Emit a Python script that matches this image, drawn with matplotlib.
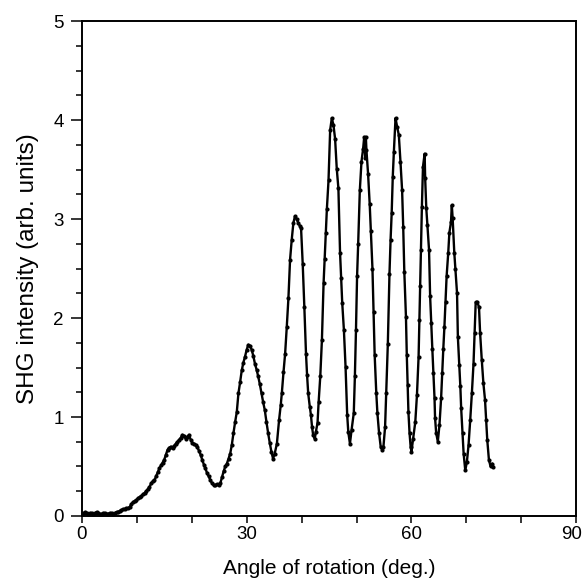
import matplotlib
matplotlib.use("Agg")
import matplotlib.pyplot as plt
import matplotlib.transforms as mtransforms
from matplotlib.ticker import MultipleLocator

# ===============================
# DATA
# ===============================
angle = [
    0.0, 0.3, 0.6, 0.9, 1.2, 1.5, 1.8, 2.1, 2.4, 2.7, 3.0, 3.3, 3.6, 3.9, 4.2, 4.5,
    4.8, 5.1, 5.4, 5.7, 6.0, 6.3, 6.6, 6.9, 7.2, 7.5, 7.8, 8.1, 8.4, 8.7, 9.0, 9.3,
    9.6, 9.9, 10.2, 10.5, 10.8, 11.1, 11.4, 11.7, 12.0, 12.3, 12.6, 12.9, 13.2, 13.5,
    13.8, 14.1, 14.4, 14.7, 15.0, 15.3, 15.6, 15.9, 16.2, 16.5, 16.8, 17.1, 17.4, 17.7,
    18.0, 18.3, 18.6, 18.9, 19.2, 19.5, 19.8, 20.1, 20.4, 20.7, 21.0, 21.3, 21.6, 21.9,
    22.2, 22.5, 22.8, 23.1, 23.4, 23.7, 24.0, 24.3, 24.6, 24.9, 25.2, 25.5, 25.8, 26.1,
    26.4, 26.7, 27.0, 27.3, 27.6, 27.9, 28.2, 28.5, 28.8, 29.1, 29.4, 29.7, 30.0, 30.3,
    30.6, 30.9, 31.2, 31.5, 31.8, 32.1, 32.4, 32.7, 33.0, 33.3, 33.6, 33.9, 34.2, 34.5,
    34.8, 35.1, 35.5, 35.9, 36.2, 36.4, 36.7, 37.0, 37.3, 37.6, 37.9, 38.2, 38.5, 38.8,
    39.1, 39.4, 39.7, 39.9, 40.2, 40.5, 40.8, 41.0, 41.2, 41.5, 41.7, 41.9, 42.1, 42.4,
    42.6, 42.9, 43.1, 43.4, 43.7, 44.0, 44.2, 44.4, 44.6, 44.9, 45.2, 45.5, 45.8, 46.1,
    46.4, 46.7, 47.0, 47.2, 47.4, 47.7, 48.0, 48.3, 48.5, 48.8, 49.1, 49.5, 49.7, 49.9,
    50.1, 50.3, 50.6, 50.9, 51.2, 51.4, 51.6, 51.7, 51.8, 52.1, 52.4, 52.6, 52.9, 53.1,
    53.3, 53.6, 53.8, 54.1, 54.4, 54.7, 54.9, 55.2, 55.4, 55.7, 56.0, 56.2, 56.4, 56.6,
    56.8, 57.1, 57.4, 57.7, 58.0, 58.3, 58.5, 58.7, 59.0, 59.15, 59.3, 59.45, 59.65, 59.85,
    60.0, 60.3, 60.7, 61.0, 61.3, 61.45, 61.6, 61.75, 61.9, 62.1, 62.4, 62.5, 62.7, 62.9,
    63.2, 63.4, 63.6, 63.8, 64.0, 64.2, 64.3, 64.5, 64.8, 65.1, 65.4, 65.6, 65.8, 66.0,
    66.2, 66.4, 66.7, 66.9, 67.2, 67.35, 67.5, 67.8, 68.0, 68.3, 68.45, 68.7, 68.9, 69.05,
    69.3, 69.5, 69.8, 70.1, 70.4, 70.7, 71.0, 71.3, 71.5, 71.7, 72.0, 72.3, 72.5, 72.8,
    73.1, 73.4, 73.6, 73.8, 74.1, 74.4, 74.7, 74.9,
]

shg = [
    0.02, 0.03, 0.04, 0.03, 0.02, 0.03, 0.03, 0.02, 0.03, 0.04, 0.03, 0.02, 0.02, 0.03, 0.03, 0.02,
    0.02, 0.03, 0.03, 0.02, 0.03, 0.04, 0.04, 0.05, 0.06, 0.07, 0.07, 0.08, 0.08, 0.09, 0.12, 0.14,
    0.15, 0.16, 0.18, 0.19, 0.20, 0.22, 0.23, 0.25, 0.27, 0.29, 0.33, 0.35, 0.36, 0.40,
    0.44, 0.48, 0.51, 0.54, 0.57, 0.62, 0.67, 0.69, 0.70, 0.69, 0.71, 0.73, 0.75, 0.77,
    0.79, 0.82, 0.81, 0.78, 0.80, 0.82, 0.77, 0.74, 0.73, 0.72, 0.70, 0.66, 0.62, 0.57,
    0.52, 0.48, 0.43, 0.40, 0.36, 0.33, 0.31, 0.31, 0.32, 0.31, 0.33, 0.39, 0.45, 0.50,
    0.53, 0.58, 0.63, 0.72, 0.84, 0.95, 1.05, 1.24, 1.35, 1.47, 1.55, 1.61, 1.68, 1.73,
    1.72, 1.68, 1.62, 1.54, 1.48, 1.41, 1.33, 1.24, 1.15, 1.07, 0.95, 0.84, 0.74, 0.65,
    0.58, 0.63, 0.73, 0.97, 1.12, 1.24, 1.45, 1.64, 1.91, 2.20, 2.59, 2.79, 2.96, 3.03,
    3.00, 2.96, 2.93, 2.91, 2.55, 2.11, 1.64, 1.42, 1.24, 1.10, 1.02, 0.90, 0.82, 0.78,
    0.85, 0.94, 1.15, 1.41, 1.78, 2.35, 2.60, 2.86, 3.10, 3.39, 3.90, 4.02, 3.95, 3.81,
    3.51, 3.31, 2.66, 2.40, 2.15, 1.88, 1.51, 1.02, 0.85, 0.73, 0.87, 1.04, 1.41, 1.88,
    2.42, 2.75, 3.29, 3.58, 3.71, 3.83, 3.62, 3.83, 3.70, 3.46, 3.15, 2.88, 2.50, 2.06,
    1.63, 1.24, 1.04, 0.84, 0.70, 0.67, 0.70, 0.90, 1.24, 1.74, 2.45, 2.79, 3.06, 3.43,
    3.68, 4.02, 3.93, 3.85, 3.58, 3.29, 2.92, 2.47, 2.01, 1.63, 1.32, 1.05, 0.84, 0.70,
    0.65, 0.78, 0.95, 1.22, 1.61, 1.98, 2.32, 2.69, 3.12, 3.53, 3.66, 3.41, 3.11, 2.94,
    2.69, 2.22, 1.95, 1.69, 1.44, 1.19, 0.99, 0.84, 0.75, 0.92, 1.19, 1.44, 1.69, 1.91,
    2.16, 2.42, 2.66, 2.86, 2.97, 3.14, 3.01, 2.66, 2.50, 2.25, 1.81, 1.53, 1.31, 1.09,
    0.84, 0.63, 0.46, 0.55, 0.72, 0.97, 1.24, 1.54, 1.85, 2.16, 2.16, 2.11, 1.85, 1.58,
    1.34, 1.17, 0.97, 0.77, 0.57, 0.50, 0.53, 0.49,
]

x_ticks = [0, 30, 60, 90]
y_ticks = [0, 1, 2, 3, 4, 5]

# ===============================
# PLOT
# ===============================
plt.rcParams["font.family"] = ["Liberation Sans", "DejaVu Sans"]

fig = plt.figure(figsize=(5.85, 5.87), dpi=100)
ax = fig.add_axes([0.140, 0.121, 0.845, 0.843])

ax.plot(angle, shg, color="black", linewidth=1.7,
        marker="o", markersize=3.0, markerfacecolor="black", markeredgewidth=0)

ax.set_xlim(0, 90)
ax.set_ylim(0, 5)
ax.set_xticks(x_ticks)
ax.set_yticks(y_ticks)
ax.xaxis.set_minor_locator(MultipleLocator(10))
ax.yaxis.set_minor_locator(MultipleLocator(0.25))

ax.tick_params(axis="x", which="major", direction="out", length=5, width=1.1,
               labelsize=13.5, pad=2)
ax.tick_params(axis="x", which="minor", direction="out", length=5, width=1.1)
ax.tick_params(axis="y", which="major", direction="out", length=8, width=1.1,
               labelsize=13.5, pad=5)
ax.tick_params(axis="y", which="minor", direction="out", length=4, width=1.1)

# keep the "90" label inside the figure edge
last = ax.get_xticklabels()[-1]
last.set_transform(last.get_transform() +
                   mtransforms.ScaledTranslation(-3 / 72, 0, fig.dpi_scale_trans))

for side in ax.spines.values():
    side.set_linewidth(1.4)

ax.set_xlabel("Angle of rotation (deg.)", fontsize=15, labelpad=12)
ax.set_ylabel("SHG intensity (arb. units)", fontsize=17.5, labelpad=10)

fig.savefig("out.png", dpi=100)
